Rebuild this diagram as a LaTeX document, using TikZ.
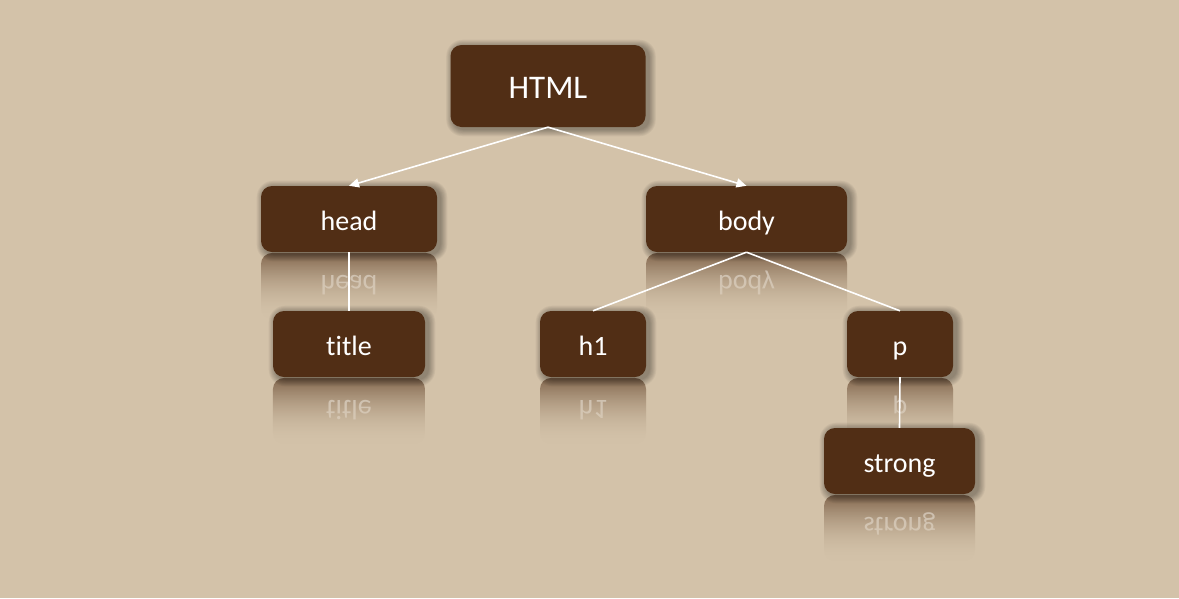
\documentclass[tikz,border=0pt]{standalone}
\usepackage{fontspec}
\setmainfont{Carlito}[Ligatures={NoCommon,NoRare}]
\usetikzlibrary{arrows.meta,fadings}
\definecolor{bg}{RGB}{211,194,169}
\definecolor{boxbrown}{RGB}{81,46,21}
\tikzfading[name=reflfade, top color=transparent!38, middle color=transparent!97, bottom color=transparent!100]
\tikzfading[name=coverfade, top color=transparent!100, middle color=transparent!30, bottom color=transparent!0]
\tikzset{
  treebox/.style={fill=boxbrown, rounded corners=11pt, draw=none},
  boxtext/.style={text=white, inner sep=0pt, anchor=base},
  conn/.style={draw=white, line width=1.6pt},
  arr/.style={conn, -{Triangle[width=9pt,length=10pt]}},
}
% soft shadow: #1 cx, #2 cy, #3 w, #4 h
\newcommand\softshadow[4]{%
  \foreach \k in {0,...,7}{%
    \fill[black, opacity=0.045, rounded corners={11pt+\k*0.8pt}]
      ({#1-#3/2+2-\k*0.9},{#2-#4/2+1-\k*0.9}) rectangle ({#1+#3/2+4+\k*0.9},{#2+#4/2+3+\k*0.9});
  }%
}
% #1 name, #2 cx, #3 cy, #4 w, #5 h, #6 text, #7 font size
\newcommand\treenode[7]{%
  \fill[boxbrown, rounded corners=11pt, path fading=reflfade]
    ({#2-#4/2},{#3+#5/2+1}) rectangle ({#2+#4/2},{#3+#5*3/2+1});
  \node[boxtext, yscale=-1, opacity=0.5, font=\fontsize{#7}{#7}\selectfont] at ({#2},{#3+#5-10}) {#6};
  \fill[bg, path fading=coverfade]
    ({#2-#4/2-1},{#3+#5/2+1}) rectangle ({#2+#4/2+1},{#3+#5*3/2+2});
  \softshadow{#2}{#3}{#4}{#5}
  \node[treebox, minimum width=#4pt, minimum height=#5pt] (#1) at (#2,#3) {};
  \node[boxtext, font=\fontsize{#7}{#7}\selectfont] at ({#2},{#3+11}) {#6};
}
\begin{document}
\begin{tikzpicture}[x=1pt,y=-1pt]
\fill[bg] (0,0) rectangle (1179,598);
\useasboundingbox (0,0) rectangle (1179,598);
% HTML box (no reflection)
\softshadow{548}{86}{195}{82}
\node[treebox, minimum width=195pt, minimum height=82pt] (html) at (548,86) {};
\node[boxtext, font=\fontsize{33}{33}\selectfont] at (548,98) {HTML};
\treenode{head}{349}{219}{176}{66}{head}{28}
\treenode{body}{746.5}{219}{201}{66}{body}{28}
\treenode{title}{349}{344}{152}{66}{title}{28}
\treenode{hone}{593}{344}{106}{66}{h1}{28}
\treenode{p}{900}{344}{106}{66}{p}{28}
\treenode{strong}{899.5}{461}{151}{66}{strong}{28}
% connectors
\draw[arr] (html.south) -- (head.north);
\draw[arr] (html.south) -- (body.north);
\draw[conn] (head.south) -- (title.north);
\draw[conn] (body.south) -- (hone.north);
\draw[conn] (body.south) -- (p.north);
\draw[conn] (p.south) -- (strong.north);
\end{tikzpicture}
\end{document}
